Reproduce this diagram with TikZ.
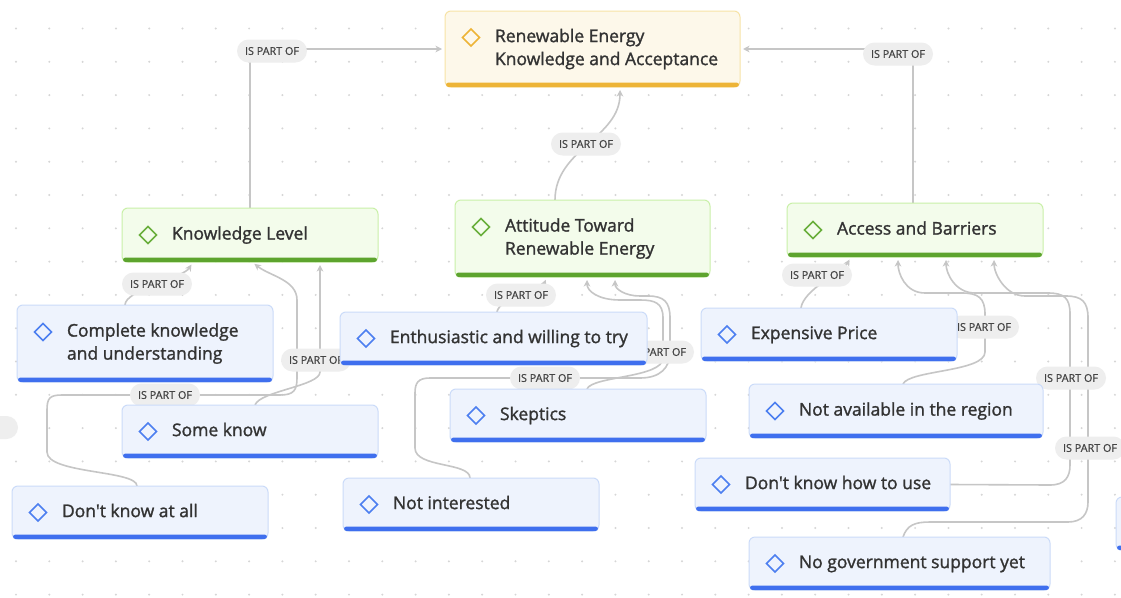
\documentclass[tikz,border=0pt]{standalone}
\usepackage{fontspec}
\setmainfont{Open Sans}
\newfontfamily\nodefont{Open Sans}[FakeBold=1.4]
\newfontfamily\pillfont{Open Sans}[FakeBold=0.9]
\usetikzlibrary{arrows.meta}
\definecolor{cRootFill}{HTML}{FDF8EA}
\definecolor{cRootDraw}{HTML}{F7E3A6}
\definecolor{cRootBar}{HTML}{EDB437}
\definecolor{cGreenFill}{HTML}{F3FCEB}
\definecolor{cGreenDraw}{HTML}{C9F0A8}
\definecolor{cGreenBar}{HTML}{5DA42E}
\definecolor{cGreenIcon}{HTML}{6AAF3D}
\definecolor{cBlueFill}{HTML}{EEF3FD}
\definecolor{cBlueDraw}{HTML}{CBDBF9}
\definecolor{cBlueBar}{HTML}{3F6FEE}
\definecolor{cBlueIcon}{HTML}{4D7FF0}
\definecolor{cTxt}{HTML}{333333}
\definecolor{cEdge}{HTML}{C6C6C6}
\definecolor{cPill}{HTML}{EEEEEE}
\definecolor{cPillTxt}{HTML}{444444}
\definecolor{cDot}{HTML}{D6D6D6}
\pgfdeclarelayer{bg}
\pgfdeclarelayer{edges}
\pgfdeclarelayer{pills}
\pgfsetlayers{bg,edges,pills,main}
\tikzset{
  basebox/.style={line width=1pt, rounded corners=6pt, inner xsep=50pt, inner ysep=0pt, outer sep=0pt,
    font=\nodefont\fontsize{17.5}{23}\selectfont, text=cTxt},
  rootbox/.style={basebox, draw=cRootDraw, fill=cRootFill},
  rootboxbar/.style={fill=cRootBar},
  rootboxicon/.style={draw=cRootBar, line width=1.6pt},
  greenbox/.style={basebox, draw=cGreenDraw, fill=cGreenFill},
  greenboxbar/.style={fill=cGreenBar},
  greenboxicon/.style={draw=cGreenIcon, line width=1.6pt},
  bluebox/.style={basebox, draw=cBlueDraw, fill=cBlueFill},
  blueboxbar/.style={fill=cBlueBar},
  blueboxicon/.style={draw=cBlueIcon, line width=1.6pt},
  myedge/.style={draw=cEdge, line width=1.6pt, -{Stealth[length=6.5pt,width=6.5pt,inset=2pt]}, shorten >=3pt},
  pill/.style={fill=cPill, rounded corners=11.5pt, minimum height=23pt, inner xsep=8pt, inner ysep=0pt,
    font=\pillfont\fontsize{10.8}{12}\selectfont, text=cPillTxt},
}
% name, x, y, w, h, kind, icon dy, text
\newcommand\cnode[8]{%
  \node[#6, anchor=north west, minimum width=#4pt, minimum height=#5pt] (#1) at (#2,#3)
    {\hbox to \dimexpr#4pt-100pt\relax{\begin{tabular}{@{}l@{}}#8\end{tabular}\hss}};
  \fill[#6bar, rounded corners=2.5pt] ([shift={(1,-4.5)}]#1.south west) rectangle ([shift={(-1,0)}]#1.south east);
  \draw[#6icon] ([shift={(26,#7)}]#1.west) +(-8.5,0) -- +(0,-8.5) -- +(8.5,0) -- +(0,8.5) -- cycle;
}
\begin{document}
\begin{tikzpicture}[x=1pt,y=-1pt]
\useasboundingbox (0,0) rectangle (1121,597);
\begin{pgfonlayer}{bg}
  \fill[white] (0,0) rectangle (1121,597);
  \foreach \i in {0,...,33} \foreach \j in {0,...,17}
    \fill[cDot] (16+33.3*\i, 28.5+33.3*\j) circle (1.1pt);
\end{pgfonlayer}

% main nodes
\cnode{root}{445}{11}{295}{76}{rootbox}{-11.5}{Renewable Energy\\Knowledge and Acceptance}
\cnode{KL}{122}{208}{256}{54}{greenbox}{0}{Knowledge Level}
\cnode{AT}{455}{200}{255}{77}{greenbox}{-11.5}{Attitude Toward\\Renewable Energy}
\cnode{AB}{787}{203}{256}{54}{greenbox}{0}{Access and Barriers}
\cnode{CK}{17}{305}{256}{77}{bluebox}{-11.5}{Complete knowledge\\and understanding}
\cnode{SK}{122}{405}{256}{53}{bluebox}{0}{Some know}
\cnode{DK}{12}{486}{256}{53}{bluebox}{0}{Don't know at all}
\cnode{EN}{340}{312}{307}{53}{bluebox}{0}{Enthusiastic and willing to try}
\cnode{SP}{450}{389}{256}{53}{bluebox}{0}{Skeptics}
\cnode{NI}{343}{478}{256}{53}{bluebox}{0}{Not interested}
\cnode{EP}{701}{308}{256}{53}{bluebox}{0}{Expensive Price}
\cnode{NA}{749}{384}{294}{54}{bluebox}{0}{Not available in the region}
\cnode{DU}{695}{458}{255}{53}{bluebox}{0}{Don't know how to use}
\cnode{NG}{749}{537}{301}{53}{bluebox}{0}{No government support yet}

% partial node at right edge
\draw[draw=cBlueDraw, fill=cBlueFill, rounded corners=6pt, line width=1pt] (1116,497) rectangle (1260,550);
\fill[cBlueBar, rounded corners=2.5pt] (1117,545.5) rectangle (1259,550);

\begin{pgfonlayer}{edges}
  \draw[myedge, rounded corners=14pt] (KL.north) |- (root.west);
  \draw[myedge] ([shift={(-27.5,0)}]AT.north) to[out=90,in=-90] ([shift={(27.5,0)}]root.south);
  \draw[myedge, rounded corners=14pt] ([shift={(-2,0)}]AB.north) |- (root.east);

  \draw[myedge] ([shift={(-20,0)}]CK.north) .. controls +(0,-15) and +(-10,16) .. ([shift={(-57,0)}]KL.south);
  \draw[myedge] ([shift={(-3,0)}]DK.north) .. controls +(0,-16) and +(0,22) .. (47,452) -- (47,410)
     .. controls +(0,-12) and +(-12,0) .. (62,395) -- (280,395)
     .. controls +(14,0) and +(0,12) .. (297,378) -- (297,300)
     .. controls +(0,-20) and +(18,14) .. ([shift={(2,0)}]KL.south);
  \draw[myedge] ([shift={(5,0)}]SK.north) .. controls +(5,-14) and +(0,14) .. (320,372) -- ([shift={(70,0)}]KL.south);

  \draw[myedge] ([shift={(3.5,0)}]EN.north) .. controls +(2,-14) and +(-6,14) .. ([shift={(-35.5,0)}]AT.south);
  \draw[myedge] ([shift={(9,0)}]SP.north) .. controls +(5,-13) and +(0,20) .. (663,358) -- (663,318)
     .. controls +(0,-15) and +(15,0) .. (640,300) -- (620,300)
     .. controls +(-22,0) and +(0,14) .. ([shift={(4.5,0)}]AT.south);
  \draw[myedge] ([shift={(-1,0)}]NI.north) .. controls +(0,-16) and +(0,20) .. (415,448) -- (415,393)
     .. controls +(0,-10) and +(-12,0) .. (430,378) -- (640,378)
     .. controls +(20,0) and +(0,16) .. (670,352) -- (670,318)
     .. controls +(0,-16) and +(16,0) .. (648,296) -- (640,296)
     .. controls +(-15,0) and +(0,12) .. ([shift={(32.5,0)}]AT.south);

  \draw[myedge] ([shift={(-28,0)}]EP.north) .. controls +(2,-18) and +(-8,14) .. ([shift={(-64,0)}]AB.south);
  \draw[myedge] ([shift={(7,0)}]NA.north) .. controls +(6,-14) and +(0,20) .. (985,352) -- (985,314)
     .. controls +(0,-16) and +(16,0) .. (962,293) -- (925,293)
     .. controls +(-20,0) and +(0,16) .. ([shift={(-17,0)}]AB.south);
  \draw[myedge] (DU.east) -- (1050,485) .. controls +(15,0) and +(0,12) .. (1070,465) -- (1070,314)
     .. controls +(0,-16) and +(16,0) .. (1048,293) -- (975,293)
     .. controls +(-20,0) and +(0,16) .. ([shift={(31,0)}]AB.south);
  \draw[myedge] ([shift={(3.5,0)}]NG.north) .. controls +(4,-12) and +(-15,0) .. (930,522) -- (1068,522)
     .. controls +(14,0) and +(0,12) .. (1088,502) -- (1088,318)
     .. controls +(0,-16) and +(16,0) .. (1066,296) -- (1025,296)
     .. controls +(-20,0) and +(0,16) .. ([shift={(79,0)}]AB.south);
\end{pgfonlayer}

\begin{pgfonlayer}{pills}
  \node[pill] (p1) at (272,51) {IS PART OF};
  \node[pill] (p2) at (586,144) {IS PART OF};
  \node[pill] (p3) at (898,54) {IS PART OF};
  \node[pill] (p4) at (157,284) {IS PART OF};
  \node[pill] (p5) at (316,360) {IS PART OF};
  \node[pill] (p6) at (165,395) {IS PART OF};
  \node[pill] (p7) at (521,295) {IS PART OF};
  \node[pill] (p8) at (659,352) {IS PART OF};
  \node[pill] (p9) at (545,378) {IS PART OF};
  \node[pill] (p10) at (817,275) {IS PART OF};
  \node[pill] (p11) at (984,327) {IS PART OF};
  \node[pill] (p12) at (1071,378) {IS PART OF};
  \node[pill] (p13) at (1090,448) {IS PART OF};
  \fill[cPill, rounded corners=11.5pt] (-60,416) rectangle (18,439);
\end{pgfonlayer}
\end{tikzpicture}
\end{document}
